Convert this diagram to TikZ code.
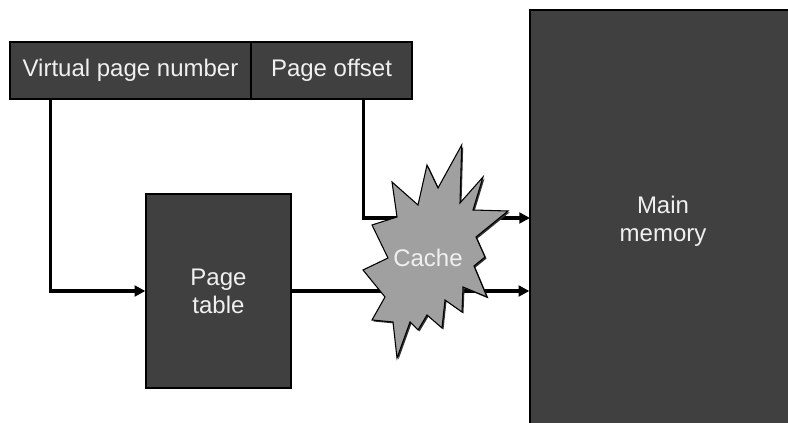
\documentclass[tikz,border=0pt]{standalone}
\usepackage{fontspec}
\setmainfont{Liberation Sans}
\usetikzlibrary{arrows.meta}
\definecolor{boxfill}{HTML}{404040}
\definecolor{burstfill}{HTML}{A0A0A0}
\definecolor{labeltext}{HTML}{F0F0F0}
\tikzset{
  block/.style={draw=black, line width=1pt, fill=boxfill, text=labeltext,
    font=\fontsize{18}{21}\selectfont, align=center, inner sep=0pt},
  conn/.style={draw=black, line width=2.4pt,
    -{Triangle[length=8pt,width=8pt]}},
  plain/.style={draw=black, line width=2.4pt},
}
\begin{document}
\begin{tikzpicture}[x=0.75pt, y=-0.75pt]
\useasboundingbox (0,0) rectangle (788,423);

% address fields
\node[block, minimum width=180.75pt, minimum height=42.75pt] (vpn) at (130.5,70.5) {Virtual page number};
\node[block, minimum width=120.75pt, minimum height=42.75pt] (off) at (331.5,70.5) {Page offset};

% page table and main memory
\node[block, minimum width=108.75pt, minimum height=145.5pt] (pt) at (218.5,291) {Page\\table};
\node[block, minimum width=199.5pt, minimum height=316.5pt] (mem) at (663,221) {Main\\memory};

% connectors
\coordinate (memin) at (530,218);
\draw[conn] ([xshift=30.75pt]vpn.south west) |- (pt.west);
\draw[conn] ([xshift=-36.75pt]off.south east) |- (memin);
\draw[conn] (pt.east) -- (pt.east -| mem.west);

% cache burst drawn over the connectors
\def\burst{(461.7,145) -- (460,203) -- (483,177) -- (473,210) -- (508,211)
  -- (476,237) -- (485,257) -- (474,266) -- (487,297) -- (463,287)
  -- (462,312) -- (445,300) -- (442,328) -- (427,315) -- (418,330)
  -- (410,322) -- (397,358) -- (393,322) -- (372,320) -- (385,297)
  -- (363,270) -- (388,258) -- (372,225) -- (397,217) -- (392,182)
  -- (418,205) -- (427,165) -- (438,188) -- cycle}
\fill[black!80, shift={(1.5,1.5)}] \burst;
\filldraw[fill=burstfill, draw=black, line width=0.8pt] \burst;
\node[text=labeltext, font=\fontsize{18}{21}\selectfont] (cache) at (428,258) {Cache};
\end{tikzpicture}
\end{document}
